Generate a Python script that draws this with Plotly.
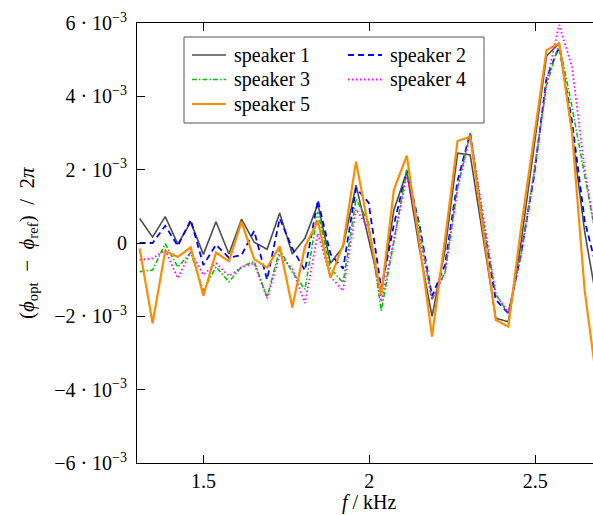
import numpy as np
import plotly.graph_objects as go

# frequency bins (kHz)
freq_khz = [1.308, 1.347, 1.385, 1.423, 1.462, 1.500, 1.538, 1.577, 1.615, 1.653,
            1.692, 1.730, 1.768, 1.806, 1.845, 1.883, 1.921, 1.960, 1.998, 2.036,
            2.074, 2.113, 2.151, 2.189, 2.228, 2.266, 2.304, 2.343, 2.381, 2.419,
            2.457, 2.496, 2.534, 2.572, 2.611, 2.649, 2.687]

# phase deviation values in units of 1e-3
speaker1_e3 = [0.67, 0.16, 0.72, -0.03, 0.57, -0.31, 0.58, -0.30, 0.65, 0.02,
               -0.17, 0.82, -0.30, 0.13, 1.06, -0.55, -0.1, 1.58, 0.1, -1.37,
               0.9, 1.94, -0.15, -2.0, -0.2, 2.45, 2.4, 0.2, -2.05, -2.15,
               0.0, 2.6, 5.1, 5.45, 3.0, 0.3, -1.67]
speaker2_e3 = [0.0, 0.0, 0.47, -0.08, 0.63, -0.6, -0.05, -0.4, -0.33, 0.33,
               -1.0, 0.67, -0.15, -0.75, 1.17, -0.3, -0.7, 1.5, 1.1, -1.25,
               0.5, 1.98, 0.5, -1.45, -0.6, 1.7, 3.0, 0.5, -1.55, -1.92,
               -0.3, 1.8, 4.5, 5.35, 3.3, 0.6, -0.76]
speaker3_e3 = [-0.78, -0.74, -0.02, -0.66, -0.26, -1.3, -0.65, -1.06, -0.65, -0.5,
               -1.48, -0.17, -0.8, -1.26, 0.85, -0.7, -1.08, 1.2, 0.55, -1.85,
               0.04, 2.0, 0.4, -1.55, -0.8, 1.5, 3.0, 0.6, -1.4, -1.92,
               -0.3, 1.9, 4.3, 5.45, 3.7, 1.8, -0.02]
speaker4_e3 = [-0.46, -0.42, -0.19, -0.96, -0.24, -0.87, -0.55, -0.9, -0.66, -0.55,
               -1.51, -0.33, -0.7, -1.64, 0.26, -0.92, -1.3, 0.92, 0.4, -1.6,
               0.08, 1.83, 0.2, -1.55, -0.8, 1.5, 2.95, 0.7, -1.4, -1.9,
               -0.35, 1.9, 4.4, 5.95, 4.8, 2.0, -0.05]
speaker5_e3 = [-0.15, -2.19, -0.22, -0.38, -0.12, -1.44, -0.26, -0.5, 0.58, -0.44,
               -0.67, -0.09, -1.76, -0.1, 0.6, -0.95, -0.05, 2.22, 0.4, -1.42,
               1.45, 2.38, 0.0, -2.55, 0.1, 2.78, 2.9, 0.3, -2.1, -2.28,
               0.4, 2.86, 5.26, 5.45, 3.0, -1.3, -3.9]

series_names = ["speaker 1", "speaker 2", "speaker 3", "speaker 4", "speaker 5"]
series_vals = [speaker1_e3, speaker2_e3, speaker3_e3, speaker4_e3, speaker5_e3]
series_colors = ["#4d4d4d", "#0000ff", "#00c800", "#ff00ff", "#ff8c00"]
series_dash = ["solid", "6px,4px", "5px,2px,1.5px,2px", "1.5px,2.5px", "solid"]
series_width = [1.6, 1.8, 1.6, 1.8, 2.2]

y_tickvals_e3 = [-6, -4, -2, 0, 2, 4, 6]
y_ticktext = ["\u22126\u2005\u00b7\u200510<sup>\u22123</sup>", "\u22124\u2005\u00b7\u200510<sup>\u22123</sup>",
              "\u22122\u2005\u00b7\u200510<sup>\u22123</sup>", "0",
              "2\u2005\u00b7\u200510<sup>\u22123</sup>", "4\u2005\u00b7\u200510<sup>\u22123</sup>",
              "6\u2005\u00b7\u200510<sup>\u22123</sup>"]
x_tickvals = [1.5, 2.0, 2.5]
x_ticktext = ["1.5", "2", "2.5"]

FONT = "'Liberation Serif', 'Times New Roman', Times, serif"
FS = 20

# plot-area geometry (pixels) used to place the hand-drawn legend box
L, R_EDGE, T, B = 137, 593, 23, 463
PW, PH = R_EDGE - L, B - T


def px_x(p):
    return (p - L) / PW


def px_y(p):
    return (B - p) / PH


fig = go.Figure()
for name, vals, col, dash, w in zip(series_names, series_vals, series_colors, series_dash, series_width):
    fig.add_trace(go.Scatter(
        x=freq_khz, y=np.array(vals) * 1e-3, mode="lines", name=name,
        line=dict(color=col, dash=dash, width=w), showlegend=False,
    ))

# legend (two columns, three rows) drawn in paper coordinates
shapes = [dict(type="rect", xref="paper", yref="paper",
               x0=px_x(184), x1=px_x(484), y0=px_y(123), y1=px_y(37),
               line=dict(color="#555555", width=1), fillcolor="white", layer="above")]
annotations = []
col_x = [192, 348]
row_y = [55, 79.5, 104]
for i, (name, col, dash, w) in enumerate(zip(series_names, series_colors, series_dash, series_width)):
    cx = col_x[i % 2]
    ry = row_y[i // 2]
    shapes.append(dict(type="line", xref="paper", yref="paper",
                       x0=px_x(cx), x1=px_x(cx + 34), y0=px_y(ry), y1=px_y(ry),
                       line=dict(color=col, dash=dash, width=w), layer="above"))
    annotations.append(dict(text=name, xref="paper", yref="paper",
                            x=px_x(cx + 40), y=px_y(ry), xanchor="left", yanchor="middle",
                            showarrow=False, font=dict(family=FONT, size=FS)))

annotations += [
    dict(text="<i>f</i> / kHz", xref="paper", yref="paper",
         x=px_x(369.3), y=px_y(503), xanchor="center", yanchor="middle",
         showarrow=False, font=dict(family=FONT, size=FS)),
    dict(text="(<i>\u03d5</i><sub>opt</sub>\u2002\u2212\u2002<i>\u03d5</i><sub>ref</sub>)\u2002/\u20022<i>\u03c0</i>",
         xref="paper", yref="paper",
         x=px_x(28), y=0.5, xanchor="center", yanchor="middle",
         textangle=-90, showarrow=False, font=dict(family=FONT, size=21)),
]

fig.update_layout(
    width=593, height=515,
    margin=dict(l=L, r=0, t=T, b=515 - B),
    paper_bgcolor="white", plot_bgcolor="white",
    font=dict(family=FONT, size=FS, color="black"),
    showlegend=False,
    shapes=shapes,
    annotations=annotations,
    xaxis=dict(
        range=[1.3, 2.674], tickvals=x_tickvals, ticktext=x_ticktext,
        showgrid=False, zeroline=False, showline=True, linecolor="black", linewidth=1,
        mirror="ticks", ticks="inside", ticklen=8, tickcolor="black",
        tickfont=dict(family=FONT, size=FS),
    ),
    yaxis=dict(
        range=[-6e-3, 6e-3], tickvals=[v * 1e-3 for v in y_tickvals_e3], ticktext=y_ticktext,
        showgrid=False, zeroline=False, showline=True, linecolor="black", linewidth=1,
        mirror=False, ticks="inside", ticklen=8, tickcolor="black",
        ticklabelstandoff=5,
        tickfont=dict(family=FONT, size=FS),
    ),
)

fig.write_html("out.html", config={"displayModeBar": False},
               post_script="document.body.style.margin='0';document.body.style.overflow='hidden';")
